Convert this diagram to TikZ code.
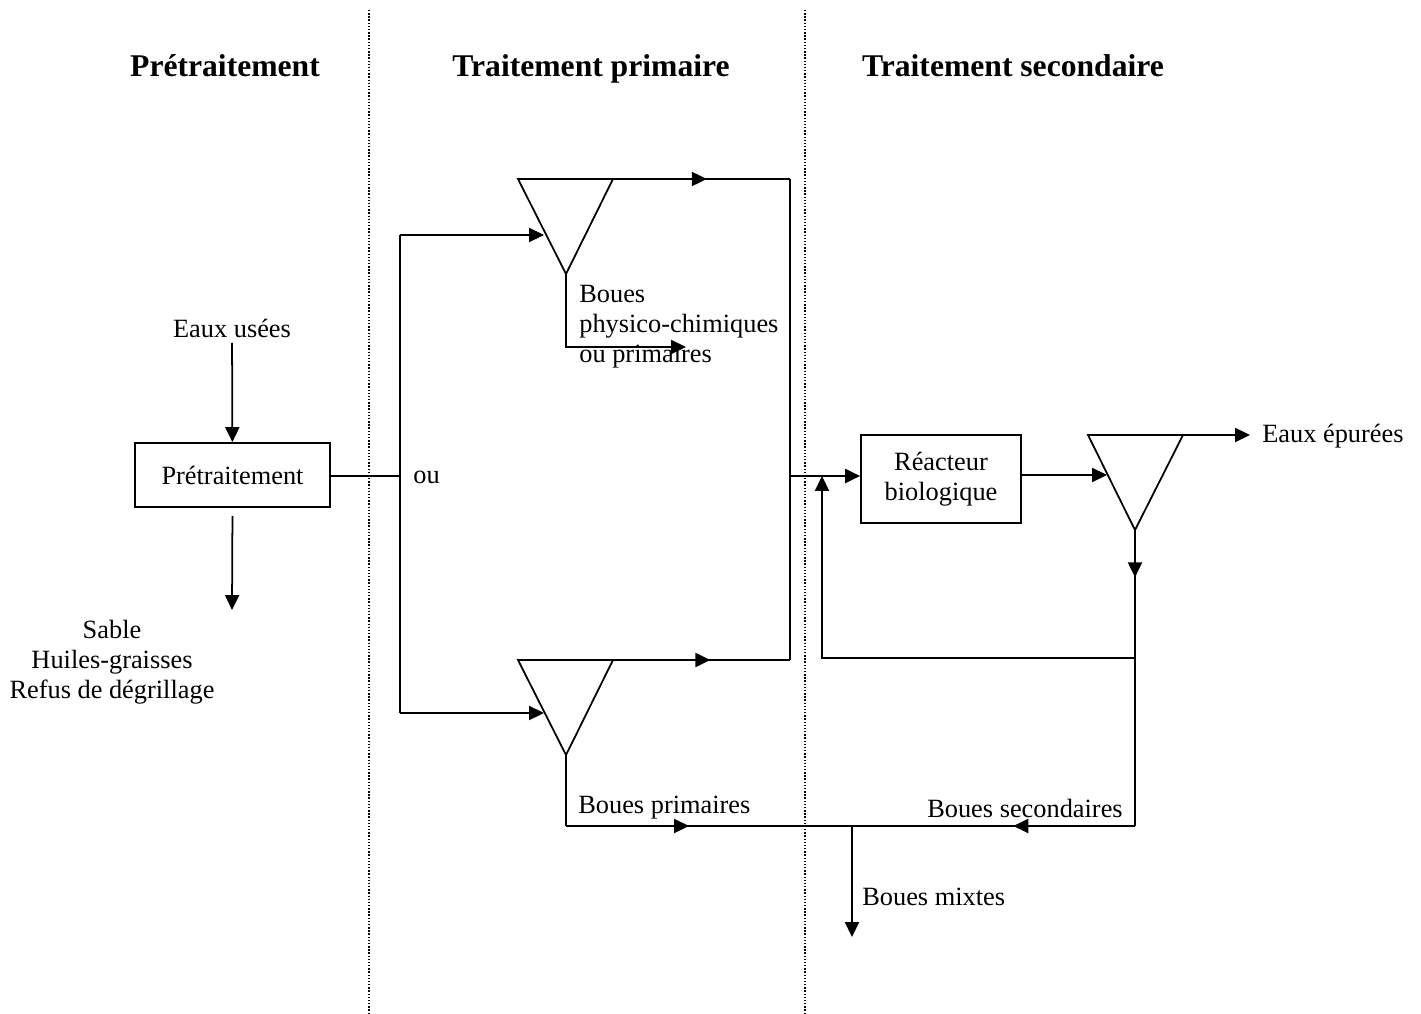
\documentclass[tikz,border=0pt]{standalone}
\usepackage{fontspec}
\setmainfont{Liberation Serif}
\usetikzlibrary{arrows.meta, positioning, decorations.markings}

\begin{document}
\begin{tikzpicture}[
    x=0.02cm, y=-0.02cm,
    >={Triangle[length=8.5pt, width=8pt]},
    bloc/.style={rectangle, draw, line width=1pt, font=\fontsize{15}{17}\selectfont, align=center, inner sep=0pt},
    texte/.style={font=\fontsize{15}{17}\selectfont, inner sep=0pt},
    titre/.style={font=\fontsize{18}{21}\selectfont\bfseries, inner sep=0pt, anchor=base},
    fleche/.style={->, line width=1pt},
    ligne/.style={line width=1pt},
    milieu/.style={line width=1pt, postaction={decorate}, decoration={markings, mark=at position #1 with {\arrow{>}}}},
    separation/.style={line width=0.6pt, dash pattern=on 0.8pt off 1pt}
]
\useasboundingbox (0,0) rectangle (1421,1014);

% === Separations ===
\draw[separation] (369,10) -- (369,1014);
\draw[separation] (805,10) -- (805,1014);

% === Titres ===
\node[titre] (t1) at (225,76) {Prétraitement};
\node[titre] (t2) at (591,76) {Traitement primaire};
\node[titre] (t3) at (1013,76) {Traitement secondaire};

% === Pretraitement ===
\node[texte] (eu) at (232,328) {Eaux usées};
\node[bloc, minimum width=3.9cm, minimum height=1.28cm] (pre) at (232.5,475) {Prétraitement};
\node[texte, align=center] (dechets) at (112,662) {Sable\\Huiles-graisses\\Refus de dégrillage};
\coordinate (s2) at (232,610);

\draw[fleche, shorten <=3pt] (eu) -- (pre);
\draw[fleche, shorten <=4.5pt] (pre.south) -- (s2);

% === Traitement primaire ===
\coordinate (j1) at (400,476);
\coordinate (j1h) at (400,235);
\coordinate (j1b) at (400,713);
\node[texte, anchor=west] (ou) at (413,477) {ou};

% decanteur du haut
\coordinate (d1g) at (518,179);
\coordinate (d1d) at (613,179);
\coordinate (d1p) at (566,274);
\coordinate (d1e) at (544,235);
\draw[ligne] (d1g) -- (d1d) -- (d1p) -- cycle;

% decanteur du bas
\coordinate (d2g) at (518,660);
\coordinate (d2d) at (613,660);
\coordinate (d2p) at (566,755);
\coordinate (d2e) at (544,713);
\draw[ligne] (d2g) -- (d2d) -- (d2p) -- cycle;

\draw[ligne] (pre.east |- j1) -- (j1);
\draw[ligne] (j1h) -- (j1b);
\draw[fleche] (j1h) -- (d1e);
\draw[fleche] (j1b) -- (d2e);

% boues du haut
\coordinate (b1) at (566,347);
\coordinate (b2) at (686,347);
\draw[fleche] (d1p) -- (b1) -- (b2);
\node[texte, anchor=west, align=left] (bpc) at (579,327) {Boues\\physico-chimiques\\ou primaires};

% sorties vers le reacteur
\coordinate (c1) at (790,179);
\coordinate (c2) at (790,660);
\coordinate (jr) at (790,476);
\draw[milieu=0.53] (d1d) -- (c1);
\draw[milieu=0.55] (d2d) -- (c2);
\draw[ligne] (c1) -- (c2);

% === Traitement secondaire ===
\node[bloc, minimum width=3.2cm, minimum height=1.76cm] (reac) at (941,479) {Réacteur\\biologique};
\draw[fleche] (jr) -- (reac.west |- jr);

% clarificateur
\coordinate (d3g) at (1088,435);
\coordinate (d3d) at (1183,435);
\coordinate (d3p) at (1135,530);
\coordinate (d3e) at (1107,475);
\draw[ligne] (d3g) -- (d3d) -- (d3p) -- cycle;
\draw[fleche] (reac.east |- d3e) -- (d3e);

\node[texte, anchor=west, inner xsep=6.8pt] (epu) at (1250,436) {Eaux épurées};
\draw[fleche] (d3d) -- (epu.west |- d3d);

% recirculation
\coordinate (rc) at (1135,658);
\coordinate (rl) at (822,658);
\coordinate (rj) at (822,476);
\draw[fleche] (rc) -- (rl) -- (rj);

% === Boues ===
\coordinate (bp) at (566,826);
\coordinate (bm) at (852,826);
\coordinate (bs) at (1135,826);
\coordinate (bx) at (852,937);
\draw[milieu=0.16] (d3p) -- (bs);
\draw[ligne] (d2p) -- (bp);
\draw[milieu=0.43] (bp) -- (bm);
\draw[milieu=0.43] (bs) -- (bm);
\draw[fleche] (bm) -- (bx);

\node[texte, anchor=west] (lbp) at (578,808) {Boues primaires};
\node[texte] (lbs) at (1025,808) {Boues secondaires};
\node[texte, anchor=west] (lbx) at (862,897) {Boues mixtes};

\end{tikzpicture}
\end{document}
